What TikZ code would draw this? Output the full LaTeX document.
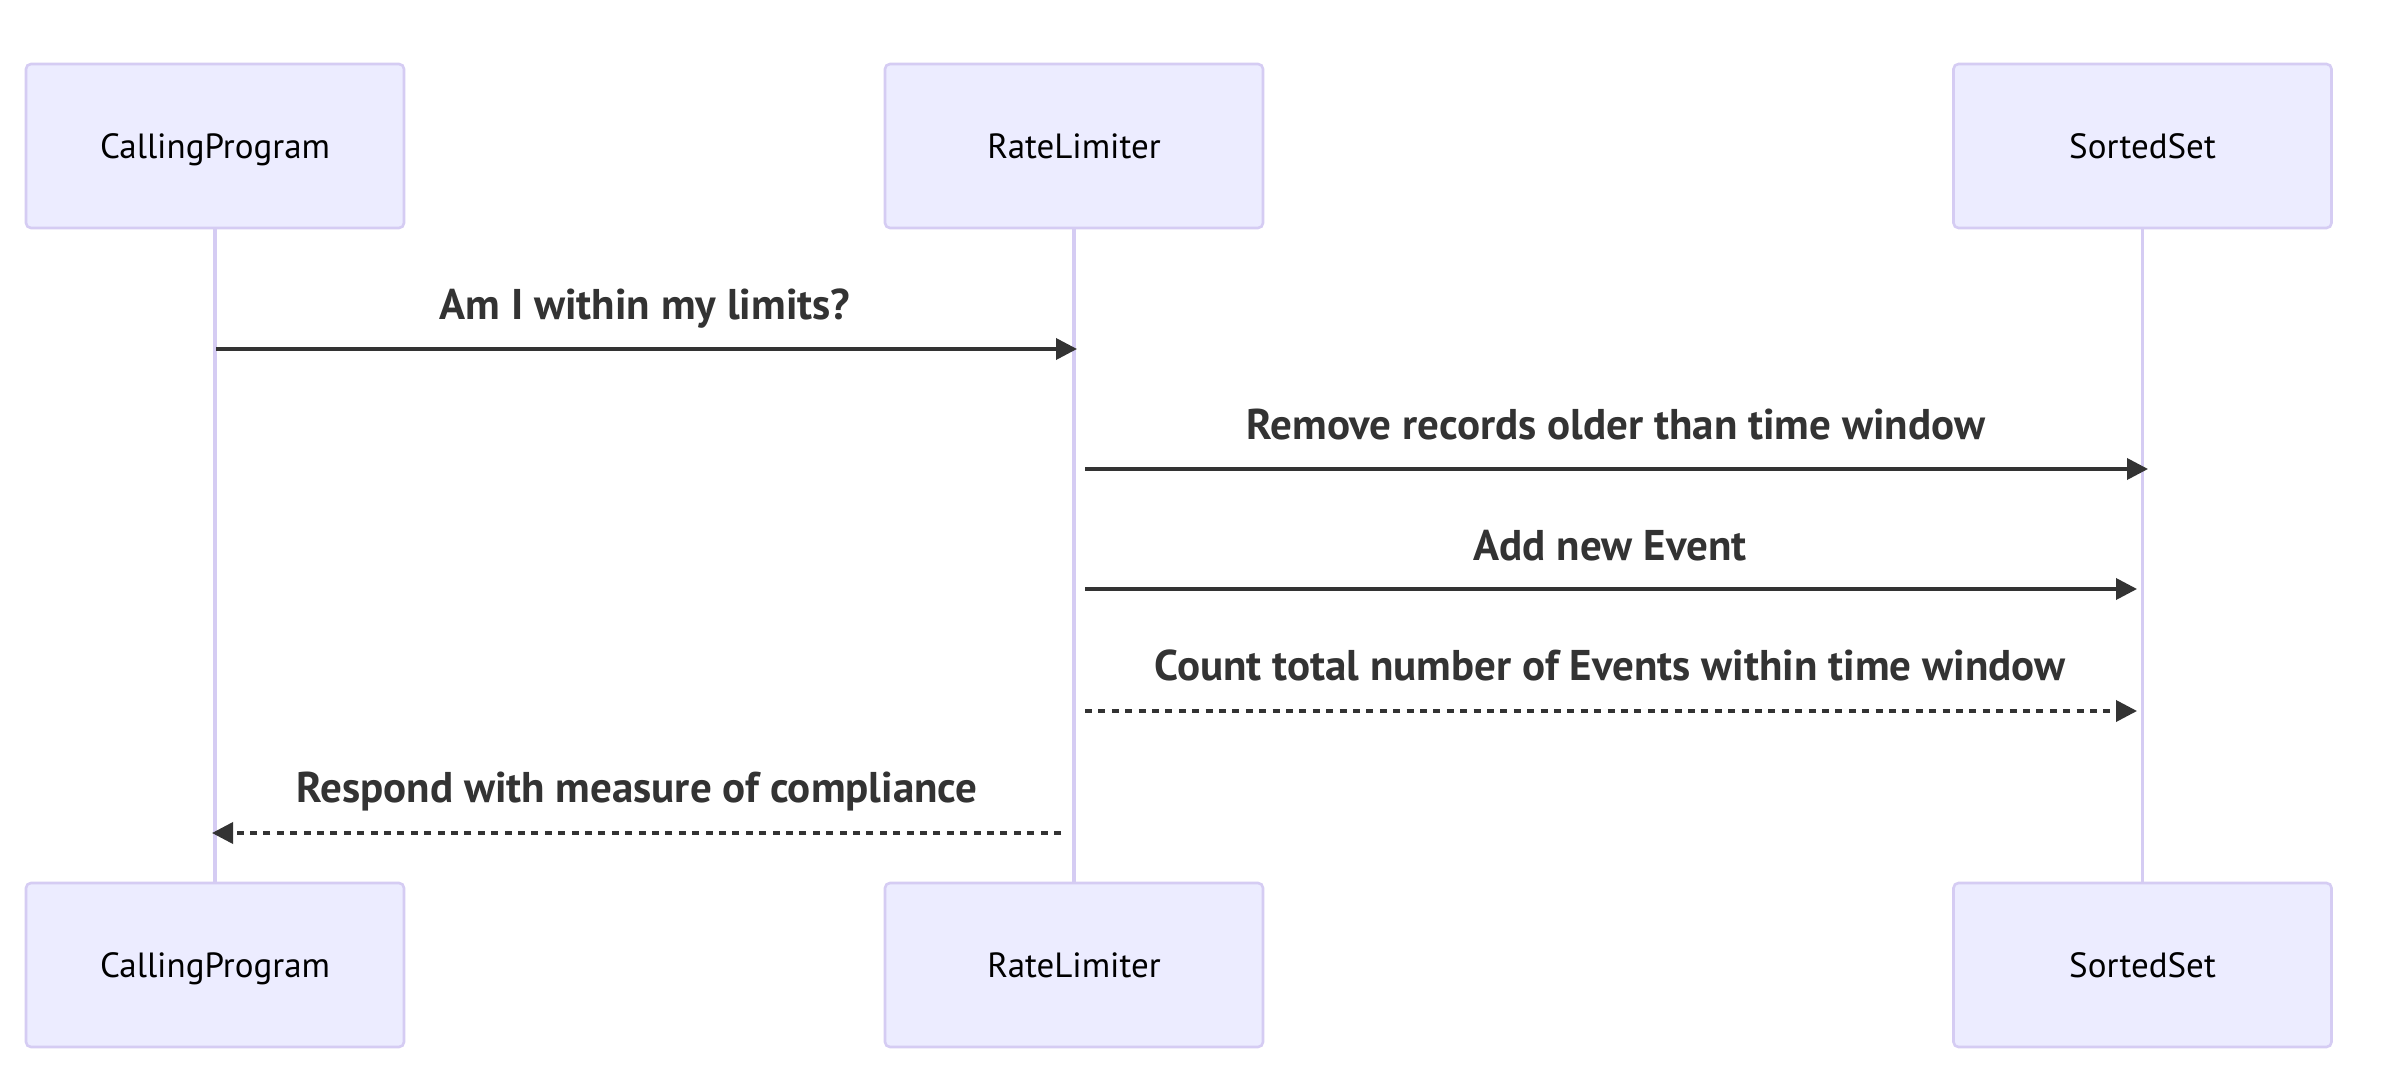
\documentclass[tikz,border=0pt]{standalone}
\usepackage{fontspec}
\setmainfont{PT Sans}
\usetikzlibrary{arrows.meta}
\definecolor{actfill}{HTML}{ECECFF}
\definecolor{actline}{HTML}{D5CCF3}
\definecolor{msgcol}{HTML}{333333}
\begin{document}
\begin{tikzpicture}[x=0.5pt,y=-0.5pt,
  actor/.style={draw=actline, line width=1.3pt, fill=actfill, rounded corners=2.5pt,
    minimum width=189pt, minimum height=82pt, inner sep=0pt,
    font=\fontsize{17.5}{20}\selectfont, text=black, text height=12.3pt, text depth=0pt},
  lifeline/.style={draw=actline, line width=1.6pt},
  msgline/.style={draw=msgcol, line width=1.8pt, -{Triangle[length=10.5pt,width=10.5pt]}},
  dotline/.style={msgline, dash pattern=on 3.5pt off 3.2pt},
  msglabel/.style={anchor=base, inner sep=0pt, text=msgcol,
    font=\bfseries\fontsize{21.5}{24}\selectfont}]
\fill[white] (0,0) rectangle (2386,1090);
\useasboundingbox (0,0) rectangle (2386,1090);
% actors
\node[actor] (cpTop) at (215,146) {CallingProgram};
\node[actor] (rlTop) at (1074,146) {RateLimiter};
\node[actor] (ssTop) at (2142.5,146) {SortedSet};
\node[actor] (cpBot) at (215,965) {CallingProgram};
\node[actor] (rlBot) at (1074,965) {RateLimiter};
\node[actor] (ssBot) at (2142.5,965) {SortedSet};
% lifelines
\draw[lifeline] (cpTop.south) -- (cpBot.north);
\draw[lifeline] (rlTop.south) -- (rlBot.north);
\draw[lifeline] (ssTop.south) -- (ssBot.north);
% message end points
\coordinate (m1s) at (216,349);  \coordinate (m1e) at (1077,349);
\coordinate (m2s) at (1085,469); \coordinate (m2e) at (2148,469);
\coordinate (m3s) at (1085,589); \coordinate (m3e) at (2137,589);
\coordinate (m4s) at (1085,711); \coordinate (m4e) at (2137,711);
\coordinate (m5s) at (1061,833); \coordinate (m5e) at (212,833);
% messages
\draw[msgline] (m1s) -- (m1e);
\node[msglabel] (l1) at (645,320) {Am I within my limits?};
\draw[msgline] (m2s) -- (m2e);
\node[msglabel] (l2) at (1616,440) {Remove records older than time window};
\draw[msgline] (m3s) -- (m3e);
\node[msglabel] (l3) at (1610,560) {Add new Event};
\draw[dotline] (m4s) -- (m4e);
\node[msglabel] (l4) at (1610,680) {Count total number of Events within time window};
\draw[dotline] (m5s) -- (m5e);
\node[msglabel] (l5) at (637,802) {Respond with measure of compliance};
\end{tikzpicture}
\end{document}
